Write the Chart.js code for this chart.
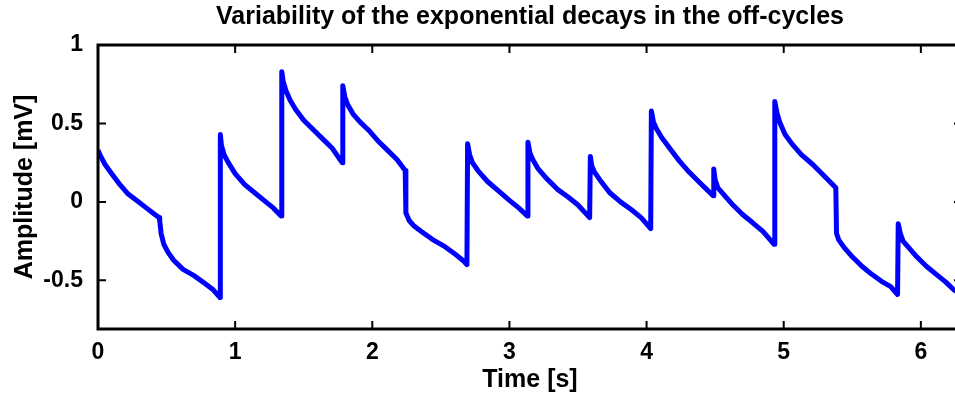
<!DOCTYPE html>
<html>
<head>
<meta charset="utf-8">
<script src="https://cdn.jsdelivr.net/npm/chart.js@4/dist/chart.umd.min.js"></script>
<style>
  html, body { margin: 0; padding: 0; background: #fff; overflow: hidden; }
  #wrap { width: 980px; height: 396px; }
</style>
</head>
<body>
<div id="wrap"><canvas id="decayChart" width="980" height="396"></canvas></div>
<script>
// values
var timeS = [
  0.00, 0.02, 0.05, 0.10, 0.16, 0.22, 0.28, 0.34, 0.40, 0.445,
  0.45, 0.46, 0.48, 0.51, 0.55, 0.62, 0.70, 0.78, 0.84, 0.89,
  0.892, 0.90, 0.92, 0.95, 1.00, 1.07, 1.14, 1.21, 1.28, 1.335,
  1.34, 1.35, 1.37, 1.40, 1.44, 1.50, 1.57, 1.64, 1.71, 1.78,
  1.785, 1.80, 1.82, 1.86, 1.91, 1.97, 2.04, 2.11, 2.18, 2.24,
  2.245, 2.25, 2.27, 2.30, 2.36, 2.44, 2.52, 2.60, 2.67, 2.69,
  2.695, 2.71, 2.73, 2.77, 2.84, 2.92, 3.00, 3.07, 3.13,
  3.135, 3.15, 3.17, 3.21, 3.27, 3.35, 3.43, 3.50, 3.585,
  3.59, 3.60, 3.62, 3.66, 3.73, 3.81, 3.89, 3.96, 4.03,
  4.035, 4.05, 4.07, 4.11, 4.17, 4.24, 4.31, 4.39, 4.485,
  4.49, 4.50, 4.52, 4.56, 4.63, 4.70, 4.77, 4.85, 4.93,
  4.935, 4.95, 4.97, 5.01, 5.06, 5.13, 5.21, 5.29, 5.38,
  5.385, 5.40, 5.44, 5.50, 5.57, 5.64, 5.72, 5.78, 5.83,
  5.835, 5.85, 5.87, 5.91, 5.97, 6.04, 6.11, 6.18, 6.24, 6.30
];
var amplitudeMV = [
  0.33, 0.29, 0.24, 0.18, 0.11, 0.05, 0.01, -0.03, -0.07, -0.10,
  -0.12, -0.20, -0.27, -0.32, -0.37, -0.43, -0.47, -0.52, -0.56, -0.61,
  0.43, 0.36, 0.30, 0.25, 0.18, 0.11, 0.06, 0.01, -0.04, -0.09,
  0.83, 0.77, 0.71, 0.65, 0.59, 0.52, 0.46, 0.40, 0.34, 0.25,
  0.74, 0.67, 0.62, 0.56, 0.51, 0.46, 0.39, 0.33, 0.27, 0.20,
  -0.07, -0.08, -0.12, -0.15, -0.19, -0.24, -0.28, -0.33, -0.38, -0.40,
  0.37, 0.30, 0.25, 0.20, 0.13, 0.07, 0.01, -0.04, -0.09,
  0.38, 0.31, 0.27, 0.21, 0.15, 0.08, 0.03, -0.02, -0.10,
  0.29, 0.23, 0.19, 0.14, 0.06, 0.00, -0.05, -0.10, -0.17,
  0.58, 0.51, 0.47, 0.41, 0.34, 0.26, 0.19, 0.12, 0.04,
  0.21, 0.14, 0.09, 0.05, -0.02, -0.08, -0.13, -0.19, -0.27,
  0.64, 0.57, 0.51, 0.43, 0.37, 0.30, 0.24, 0.17, 0.09,
  -0.20, -0.24, -0.29, -0.35, -0.41, -0.46, -0.51, -0.54, -0.59,
  -0.14, -0.20, -0.25, -0.29, -0.35, -0.41, -0.46, -0.51, -0.56, -0.59
];
var xTicks = [0, 1, 2, 3, 4, 5, 6];
var yTicks = [-0.5, 0, 0.5, 1];

var points = timeS.map(function(t, i) { return {x: t, y: amplitudeMV[i]}; });

// matlab style box with inward ticks
var boxTicks = {
  id: 'boxTicks',
  afterDatasetsDraw: function(chart) {
    var ctx = chart.ctx, a = chart.chartArea;
    var xs = chart.scales.x, ys = chart.scales.y;
    var len = 8;
    ctx.save();
    ctx.strokeStyle = '#000';
    ctx.lineWidth = 2;
    ctx.beginPath();
    xTicks.forEach(function(v) {
      var px = xs.getPixelForValue(v);
      ctx.moveTo(px, a.bottom); ctx.lineTo(px, a.bottom - len);
      ctx.moveTo(px, a.top); ctx.lineTo(px, a.top + len);
    });
    yTicks.forEach(function(v) {
      var py = ys.getPixelForValue(v);
      ctx.moveTo(a.left, py); ctx.lineTo(a.left + len, py);
      ctx.moveTo(a.right, py); ctx.lineTo(a.right - len, py);
    });
    ctx.stroke();
    ctx.lineWidth = 3;
    ctx.strokeRect(a.left, a.top, a.right - a.left, a.bottom - a.top);
    ctx.restore();
  }
};

var family = 'Arial, "Liberation Sans", sans-serif';
var tickFont = { family: family, size: 23, weight: 'bold' };
var labelFont = { family: family, size: 25, weight: 'bold' };

new Chart(document.getElementById('decayChart'), {
  type: 'scatter',
  data: {
    datasets: [{
      data: points,
      showLine: true,
      borderColor: '#0000ff',
      borderWidth: 5,
      borderJoinStyle: 'round',
      pointRadius: 0,
      tension: 0
    }]
  },
  options: {
    responsive: false,
    animation: false,
    layout: { padding: { left: 0, right: 18, top: 0, bottom: 0 } },
    plugins: {
      legend: { display: false },
      tooltip: { enabled: false },
      title: {
        display: true,
        fullSize: false,
        text: 'Variability of the exponential decays in the off-cycles',
        color: '#000',
        font: labelFont,
        padding: { top: 2, bottom: 13 }
      }
    },
    scales: {
      x: {
        type: 'linear',
        min: 0,
        max: 6.3,
        grid: { display: false },
        border: { display: false },
        afterBuildTicks: function(s) { s.ticks = xTicks.map(function(v) { return {value: v}; }); },
        afterFit: function(s) { s.height = 67; },
        ticks: { color: '#000', font: tickFont, padding: 2, maxRotation: 0,
                 callback: function(v) { return String(v); } },
        title: { display: true, text: 'Time [s]', color: '#000', font: labelFont, padding: { top: 0, bottom: 1 } }
      },
      y: {
        min: -0.81,
        max: 1,
        grid: { display: false },
        border: { display: false },
        afterBuildTicks: function(s) { s.ticks = yTicks.map(function(v) { return {value: v}; }); },
        afterFit: function(s) { s.width = 98; },
        ticks: { color: '#000', font: tickFont, padding: 7,
                 callback: function(v) { return String(v); } },
        title: { display: true, text: 'Amplitude [mV]', color: '#000', font: labelFont, padding: { top: 10, bottom: 0 } }
      }
    }
  },
  plugins: [boxTicks]
});
</script>
</body>
</html>
